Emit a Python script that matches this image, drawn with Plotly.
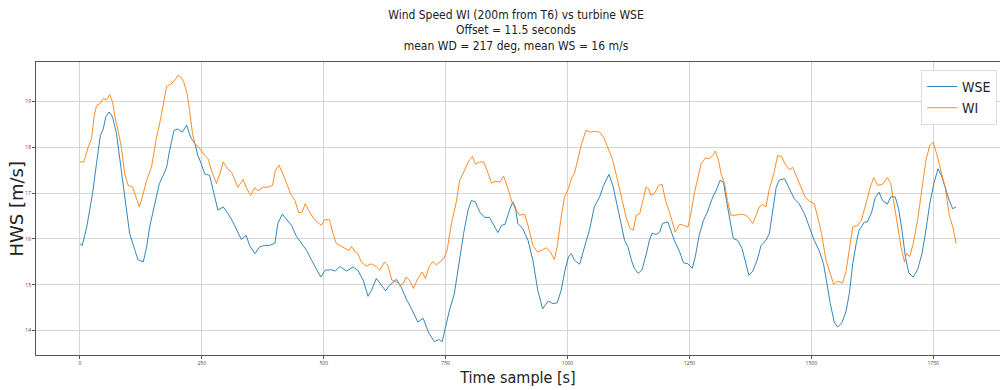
import plotly.graph_objects as go

# Time samples [s] and HWS [m/s]
wse_t = [0,5,14,26,34,42,48,53,60,67,75,82,89,96,102,113,119,130,137,143,154,163,171,178,184,193,201,210,219,227,236,242,249,256,266,273,283,294,304,314,324,331,341,348,359,369,379,389,400,406,415,423,434,444,454,465,475,485,494,503,516,524,533,547,560,570,581,591,598,608,618,627,635,649,659,669,680,693,704,716,727,736,743,750,758,768,777,787,796,803,811,820,830,840,849,857,865,872,881,888,893,898,908,919,929,939,949,961,970,979,987,995,1002,1008,1014,1025,1035,1045,1055,1066,1074,1085,1093,1100,1107,1117,1124,1131,1137,1145,1153,1161,1168,1173,1182,1189,1195,1206,1212,1219,1230,1238,1247,1256,1262,1270,1279,1287,1298,1305,1313,1320,1326,1333,1340,1349,1358,1365,1372,1380,1389,1397,1407,1414,1421,1428,1434,1445,1455,1465,1475,1486,1496,1506,1516,1525,1532,1539,1547,1554,1562,1571,1578,1585,1592,1598,1609,1615,1624,1631,1639,1646,1656,1663,1672,1679,1686,1693,1700,1709,1718,1727,1735,1743,1752,1760,1768,1775,1783,1790,1797]
wse_v = [15.90,15.86,16.26,16.99,17.64,18.26,18.40,18.66,18.77,18.66,18.30,17.71,17.21,16.63,16.12,15.75,15.55,15.50,15.83,16.26,16.77,17.21,17.39,17.57,17.93,18.37,18.40,18.33,18.48,18.22,18.08,17.82,17.64,17.42,17.39,17.06,16.63,16.70,16.55,16.37,16.15,15.99,16.08,15.86,15.68,15.83,15.86,15.86,15.91,16.34,16.54,16.44,16.30,16.06,15.90,15.75,15.54,15.36,15.17,15.32,15.33,15.30,15.40,15.30,15.39,15.32,15.10,14.75,14.88,15.14,14.99,14.87,14.99,15.12,14.95,14.70,14.48,14.19,14.27,13.94,13.76,13.81,13.76,14.08,14.45,14.81,15.46,16.12,16.63,16.84,16.81,16.59,16.47,16.47,16.30,16.14,16.30,16.32,16.63,16.81,16.70,16.34,16.23,15.97,15.54,14.88,14.48,14.65,14.59,14.61,14.88,15.32,15.61,15.68,15.54,15.45,15.83,16.19,16.70,16.92,17.17,17.41,17.17,16.85,16.48,15.97,15.83,15.54,15.36,15.25,15.33,15.65,15.97,16.12,16.10,16.15,16.34,16.37,16.19,15.97,15.72,15.48,15.46,15.36,15.61,16.08,16.41,16.59,16.92,17.06,17.28,17.24,16.84,16.41,16.01,15.97,15.79,15.50,15.21,15.30,15.54,15.86,15.97,16.12,16.63,17.13,17.28,17.32,17.10,16.88,16.77,16.55,16.26,15.97,15.75,15.46,15.03,14.59,14.19,14.08,14.16,14.41,14.81,15.46,15.90,16.19,16.37,16.37,16.59,16.90,17.02,16.84,16.76,16.92,16.92,16.66,16.19,15.61,15.26,15.17,15.33,15.68,16.19,16.77,17.24,17.53,17.35,17.10,16.84,16.66,16.70]

wi_t = [0,8,17,24,29,34,41,48,55,61,67,72,79,85,92,99,108,115,122,128,137,147,156,165,174,178,188,195,201,208,213,220,225,231,236,246,256,263,271,280,287,294,303,311,318,324,335,341,350,359,365,376,386,395,401,408,415,423,432,441,449,456,462,471,480,488,495,502,512,519,526,536,547,552,557,564,570,577,587,598,608,615,625,632,640,650,657,664,669,676,684,693,702,709,716,724,731,738,746,753,762,772,779,789,798,805,811,820,828,835,844,852,861,869,878,886,893,902,912,920,929,938,946,956,965,973,979,986,994,1002,1009,1014,1021,1029,1038,1047,1055,1066,1074,1083,1092,1100,1107,1112,1120,1128,1135,1141,1148,1154,1161,1166,1171,1178,1187,1194,1201,1209,1216,1221,1230,1238,1247,1253,1260,1267,1274,1283,1291,1298,1303,1310,1315,1322,1328,1335,1346,1356,1366,1373,1380,1387,1393,1400,1407,1414,1423,1431,1439,1446,1455,1462,1469,1477,1487,1496,1506,1513,1521,1530,1539,1546,1555,1564,1571,1578,1585,1595,1603,1612,1621,1628,1636,1646,1656,1663,1670,1677,1684,1691,1695,1702,1709,1718,1727,1735,1743,1750,1757,1766,1775,1783,1791,1797]
wi_v = [17.68,17.68,18.00,18.19,18.66,18.91,18.95,19.06,19.04,19.15,18.99,18.66,18.33,18.00,17.42,17.17,17.13,16.92,16.70,16.92,17.28,17.57,18.15,18.59,19.17,19.33,19.39,19.47,19.57,19.52,19.42,19.17,18.80,18.30,18.08,17.97,17.82,17.75,17.46,17.21,17.42,17.68,17.53,17.46,17.28,17.13,17.30,17.13,16.95,17.12,17.05,17.13,17.13,17.17,17.50,17.61,17.46,17.24,16.99,16.84,16.57,16.59,16.77,16.59,16.44,16.36,16.30,16.42,16.42,16.12,15.90,15.84,15.77,15.75,15.84,15.72,15.68,15.50,15.41,15.46,15.39,15.32,15.50,15.41,15.10,15.06,14.99,15.04,15.17,15.10,14.92,15.14,15.28,15.14,15.39,15.51,15.43,15.50,15.57,15.75,16.34,16.81,17.28,17.50,17.71,17.80,17.63,17.68,17.68,17.50,17.22,17.26,17.24,17.37,17.10,16.81,16.66,16.52,16.54,16.26,15.86,15.72,15.75,15.81,15.72,15.55,15.83,16.41,16.92,17.10,17.35,17.42,17.71,18.08,18.37,18.33,18.35,18.33,18.22,17.97,17.75,17.40,17.10,16.84,16.48,16.23,16.19,16.52,16.55,16.81,17.13,17.10,16.95,16.99,17.17,17.19,16.84,16.59,16.30,16.15,16.32,16.30,16.26,16.55,16.99,17.35,17.64,17.77,17.75,17.82,17.92,17.71,17.42,17.21,16.84,16.52,16.52,16.54,16.52,16.44,16.34,16.52,16.70,16.75,16.70,17.10,17.42,17.82,17.80,17.64,17.51,17.56,17.39,17.17,16.92,16.83,16.77,16.48,16.12,15.54,15.21,15.01,15.08,15.04,15.28,15.83,16.26,16.30,16.41,16.77,17.13,17.34,17.17,17.19,17.34,17.21,16.77,16.26,15.83,15.50,15.68,15.62,15.90,16.41,17.06,17.71,18.04,18.11,17.86,17.50,17.10,16.52,16.23,15.90]

x_ticks = [0, 250, 500, 750, 1000, 1250, 1500, 1750]
y_ticks = [14, 15, 16, 17, 18, 19]

title_lines = ["Wind Speed WI (200m from T6) vs turbine WSE",
               "Offset = 11.5 seconds",
               "mean WD = 217 deg, mean WS = 16 m/s"]

NARROW = "DejaVu Sans Condensed, Liberation Sans Narrow, DejaVu Sans"

fig = go.Figure()
fig.add_trace(go.Scatter(x=wse_t, y=wse_v, mode="lines", name="WSE",
                         line=dict(color="#1f77b4", width=0.9)))
fig.add_trace(go.Scatter(x=wi_t, y=wi_v, mode="lines", name="WI",
                         line=dict(color="#ff7f0e", width=0.9)))

fig.update_layout(
    width=1000, height=390,
    margin=dict(l=36, r=0, t=62, b=35),
    paper_bgcolor="white", plot_bgcolor="white",
    title=dict(text="<br>".join(title_lines), x=0.516, xanchor="center",
               y=0.952, yanchor="top",
               font=dict(family=NARROW, size=12, color="#222")),
    legend=dict(x=0.997, xanchor="right", y=0.973, yanchor="top",
                bgcolor="white", bordercolor="#dddddd", borderwidth=1,
                itemwidth=30,
                font=dict(family=NARROW, size=14, color="#222")),
    showlegend=True,
    annotations=[dict(text="HWS [m/s]", textangle=-90, xref="paper", yref="paper",
                      x=(16 - 36) / 964, y=0.5, xanchor="center", yanchor="middle",
                      showarrow=False,
                      font=dict(family="DejaVu Sans", size=18, color="#222"))],
)
fig.update_xaxes(range=[-90, 1887], tickvals=x_ticks,
                 ticktext=[str(v) for v in x_ticks],
                 tickfont=dict(size=5, color="#444"),
                 showgrid=True, gridcolor="#d5d5d5", gridwidth=1,
                 showline=True, linecolor="#555", linewidth=1, mirror=True,
                 ticks="outside", ticklen=3, tickcolor="#555",
                 zeroline=False,
                 title=dict(text="Time sample [s]", standoff=6,
                            font=dict(family=NARROW, size=16, color="#222")))
fig.update_yaxes(range=[13.47, 19.86], tickvals=y_ticks,
                 ticktext=[str(v) for v in y_ticks],
                 tickfont=dict(size=5, color="#444"),
                 showgrid=True, gridcolor="#d5d5d5", gridwidth=1,
                 showline=True, linecolor="#555", linewidth=1, mirror=True,
                 ticks="outside", ticklen=3, tickcolor="#555",
                 zeroline=False)

fig.write_html("out.html")
